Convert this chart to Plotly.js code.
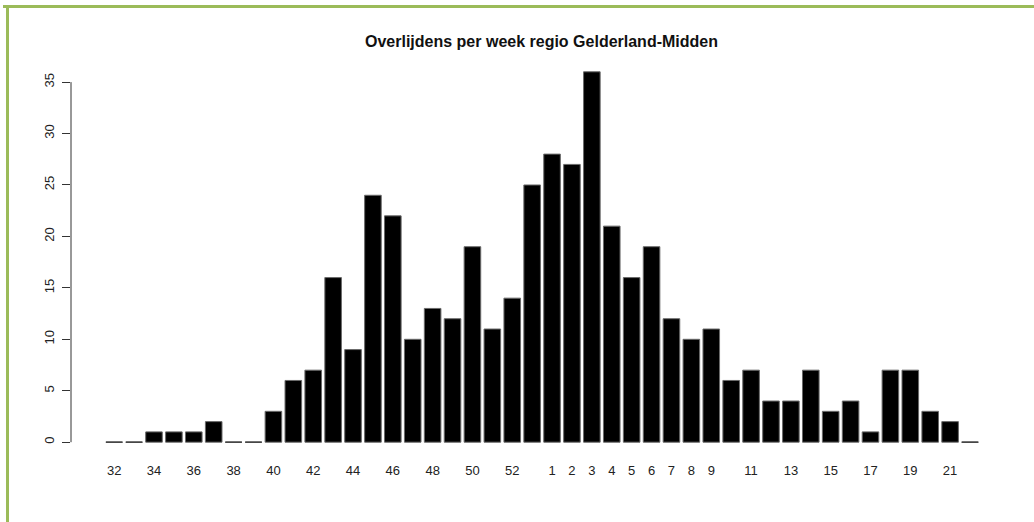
<!DOCTYPE html>
<html>
<head>
<meta charset="utf-8">
<script src="https://cdn.plot.ly/plotly-3.0.1.min.js"></script>
<style>
  html, body { margin: 0; padding: 0; background: #fff; }
  #wrap { position: relative; width: 1034px; height: 522px; overflow: hidden; }
  #chart { position: absolute; left: 0; top: 0; width: 1034px; height: 522px; }
  .frameTop { position: absolute; left: 3px; top: 5px; width: 1031px; height: 3px; background: #9bbb59; }
  .frameLeft { position: absolute; left: 6px; top: 5px; width: 3px; height: 517px; background: #9bbb59; }
</style>
</head>
<body>
<div id="wrap">
  <div id="chart"></div>
  <div class="frameTop"></div>
  <div class="frameLeft"></div>
</div>
<script>
// Week numbers (Aug 2020 – May 2021)
const weeks = ['32','33','34','35','36','37','38','39','40','41','42','43','44','45','46','47','48','49','50','51','52','53',
               '1','2','3','4','5','6','7','8','9','10','11','12','13','14','15','16','17','18','19','20','21','22'];
// Deaths per week
const deaths = [0,0,1,1,1,2,0,0,3,6,7,16,9,24,22,10,13,12,19,11,14,25,
                28,27,36,21,16,19,12,10,11,6,7,4,4,7,3,4,1,7,7,3,2,0];
// Tick labels that are shown on the x axis
const labelWeeks = ['32','34','36','38','40','42','44','46','48','50','52',
                    '1','2','3','4','5','6','7','8','9','11','13','15','17','19','21'];
const yTicks = [0,5,10,15,20,25,30,35];
const titleText = 'Overlijdens per week regio Gelderland-Midden';

const idx = weeks.map((w, i) => i);
const halfW = 0.5 / 1.2;

// zero-valued bars drawn as a flat line (as R barplot does)
const zx = [], zy = [];
deaths.forEach((v, i) => {
  if (v === 0) { zx.push(i - halfW, i + halfW, null); zy.push(0, 0, null); }
});

const traces = [
  {
    type: 'bar',
    x: idx,
    y: deaths,
    marker: { color: '#000000', line: { color: '#6a6a6a', width: 1 } },
    hoverinfo: 'skip'
  },
  {
    type: 'scatter',
    mode: 'lines',
    x: zx,
    y: zy,
    line: { color: '#444444', width: 1.5 },
    hoverinfo: 'skip',
    showlegend: false
  }
];

const layout = {
  width: 1034,
  height: 522,
  margin: { l: 71, r: 22, t: 57, b: 65, pad: 0 },
  paper_bgcolor: 'rgba(0,0,0,0)',
  plot_bgcolor: 'rgba(0,0,0,0)',
  showlegend: false,
  bargap: 1 / 6,
  font: { family: 'Liberation Sans, Arial, sans-serif', color: '#222' },
  title: {
    text: '<b>' + titleText + '</b>',
    font: { family: 'Liberation Sans, Arial, sans-serif', size: 16, color: '#111' },
    x: 0.5, xref: 'paper', xanchor: 'center',
    y: 1 - 41 / 522, yref: 'container', yanchor: 'middle'
  },
  xaxis: {
    range: [-2.17, 45.11],
    tickmode: 'array',
    tickvals: labelWeeks.map(w => weeks.indexOf(w)),
    ticktext: labelWeeks,
    ticks: '',
    ticklabelstandoff: 4,
    showline: false, showgrid: false, zeroline: false,
    tickfont: { size: 13, color: '#222' },
    fixedrange: true
  },
  yaxis: {
    range: [-1.44, 37.44],
    tickmode: 'array',
    tickvals: yTicks,
    ticktext: yTicks.map(String),
    ticks: 'outside', ticklen: 8, tickwidth: 1, tickcolor: '#333',
    tickangle: -90,
    ticklabelstandoff: 3,
    showline: false, showgrid: false, zeroline: false,
    tickfont: { size: 13, color: '#222' },
    fixedrange: true
  },
  shapes: [
    {
      type: 'line', xref: 'paper', yref: 'y',
      x0: 0, x1: 0, y0: yTicks[0], y1: yTicks[yTicks.length - 1],
      line: { color: '#333', width: 1 }
    }
  ]
};

Plotly.newPlot('chart', traces, layout, { staticPlot: true, displayModeBar: false });
</script>
</body>
</html>
